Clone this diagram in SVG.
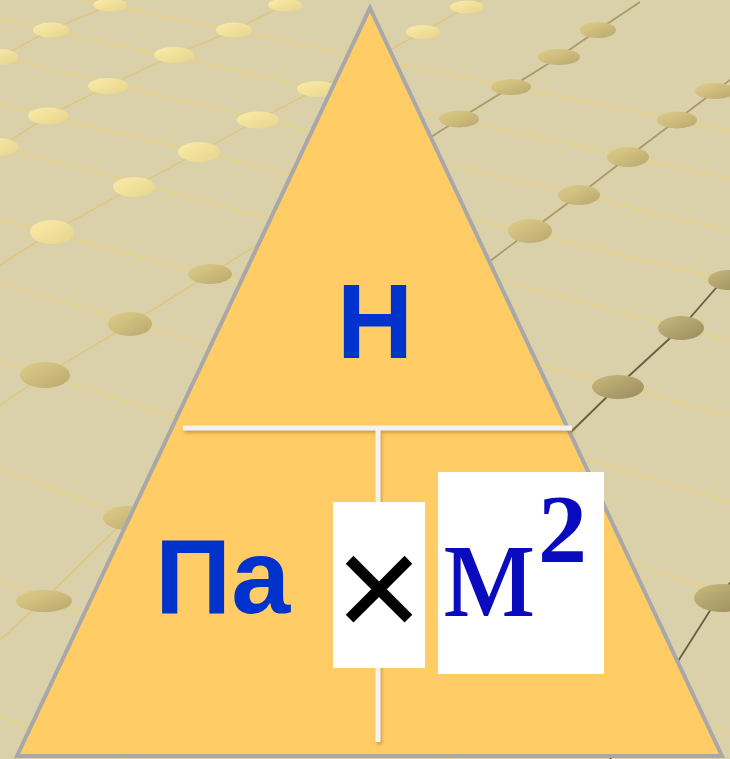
<svg xmlns="http://www.w3.org/2000/svg" width="730" height="759" viewBox="0 0 730 759">
<defs>
<linearGradient id="gl" x1="0" y1="0" x2="1" y2="1"><stop offset="0" stop-color="#FBECA8"/><stop offset="1" stop-color="#E6D48C"/></linearGradient>
<linearGradient id="gm" x1="0" y1="0" x2="1" y2="1"><stop offset="0" stop-color="#DFCE88"/><stop offset="1" stop-color="#B9A86E"/></linearGradient>
<linearGradient id="gd" x1="0" y1="0" x2="1" y2="1"><stop offset="0" stop-color="#C9B97C"/><stop offset="1" stop-color="#9A8B5E"/></linearGradient>
<filter id="sh" filterUnits="userSpaceOnUse" x="0" y="0" width="730" height="759"><feDropShadow dx="1.5" dy="2.5" stdDeviation="1.5" flood-color="#B07820" flood-opacity="0.55"/></filter>
<style>
.bl{fill:none;stroke:#E6D18A;stroke-width:2}
.al{fill:none;stroke:#DCC884;stroke-width:1.8}
.am{fill:none;stroke:#A99A68;stroke-width:1.8}
.ad{fill:none;stroke:#6A5E42;stroke-width:1.8}
.dl{fill:url(#gl)}
.dm{fill:url(#gm)}
.dd{fill:url(#gd)}
.blue{font-family:"Liberation Sans",Arial,sans-serif;font-weight:bold;fill:#0033CC}
.conn{fill:none;stroke:#F2F2F2;stroke-width:5;filter:url(#sh)}
</style>
</defs>
<g id="background">
<rect x="0" y="0" width="730" height="759" fill="#DAD1AB"/>
<line class="bl" x1="0" y1="-17" x2="730" y2="131"/>
<line class="bl" x1="0" y1="19" x2="730" y2="179"/>
<line class="bl" x1="0" y1="57" x2="730" y2="231"/>
<line class="bl" x1="0" y1="104" x2="730" y2="281"/>
<line class="bl" x1="0" y1="147" x2="730" y2="341"/>
<line class="bl" x1="0" y1="219" x2="730" y2="416"/>
<line class="bl" x1="0" y1="283" x2="730" y2="502"/>
<line class="bl" x1="0" y1="361" x2="730" y2="595"/>
<line class="bl" x1="0" y1="470" x2="730" y2="733"/>
<line class="bl" x1="0" y1="580" x2="730" y2="870"/>
<line class="bl" x1="0" y1="717" x2="730" y2="960"/>
<polyline class="al" points="180,-25 110,5 51,30 0,57 -20,68"/>
<polyline class="al" points="330,-18 285,5 234,30 174,55 108,86 48,116 0,147 -20,160"/>
<polyline class="al" points="500,-10 467,7 423,32 317,89 258,120 199,152 134,187 52,232 0,265"/>
<polyline class="am" points="640,2 598,30 559,57 511,87 459,119 380,170"/>
<polyline class="al" points="290,225 210,274 130,324 45,375 0,405"/>
<polyline class="am" points="760,58 715,91 677,120 628,157 579,195 530,231 470,276"/>
<polyline class="al" points="200,450 127,518 44,600 0,640"/>
<polyline class="ad" points="760,240 723,280 681,328 618,386 573,430 540,465"/>
<polyline class="ad" points="760,545 718,598 680,658 640,720 610,759"/>
<ellipse class="dl" cx="110" cy="5" rx="17" ry="6.5"/>
<ellipse class="dl" cx="285" cy="5" rx="17" ry="6.5"/>
<ellipse class="dl" cx="467" cy="7" rx="17" ry="6.5"/>
<ellipse class="dl" cx="51" cy="30" rx="18" ry="7.5"/>
<ellipse class="dl" cx="234" cy="30" rx="18" ry="7.5"/>
<ellipse class="dl" cx="423" cy="32" rx="17" ry="7"/>
<ellipse class="dl" cx="174" cy="55" rx="20" ry="8"/>
<ellipse class="dl" cx="0" cy="57" rx="18" ry="8"/>
<ellipse class="dl" cx="108" cy="86" rx="20" ry="8"/>
<ellipse class="dl" cx="317" cy="89" rx="20" ry="8"/>
<ellipse class="dl" cx="48" cy="116" rx="20" ry="8.5"/>
<ellipse class="dl" cx="258" cy="120" rx="21" ry="8.5"/>
<ellipse class="dl" cx="0" cy="147" rx="18" ry="9"/>
<ellipse class="dl" cx="199" cy="152" rx="21" ry="10"/>
<ellipse class="dl" cx="134" cy="187" rx="21" ry="10"/>
<ellipse class="dl" cx="52" cy="232" rx="22" ry="12"/>
<ellipse class="dm" cx="210" cy="274" rx="22" ry="10"/>
<ellipse class="dm" cx="130" cy="324" rx="22" ry="12"/>
<ellipse class="dm" cx="45" cy="375" rx="25" ry="13"/>
<ellipse class="dm" cx="127" cy="518" rx="24" ry="12"/>
<ellipse class="dm" cx="44" cy="601" rx="28" ry="11"/>
<ellipse class="dm" cx="598" cy="30" rx="18" ry="8"/>
<ellipse class="dm" cx="559" cy="57" rx="21" ry="8"/>
<ellipse class="dm" cx="511" cy="87" rx="20" ry="8"/>
<ellipse class="dm" cx="459" cy="119" rx="20" ry="8.5"/>
<ellipse class="dm" cx="715" cy="91" rx="20" ry="8"/>
<ellipse class="dm" cx="677" cy="120" rx="20" ry="8.5"/>
<ellipse class="dm" cx="628" cy="157" rx="21" ry="10"/>
<ellipse class="dm" cx="579" cy="195" rx="21" ry="10"/>
<ellipse class="dm" cx="530" cy="231" rx="22" ry="12"/>
<ellipse class="dd" cx="728" cy="280" rx="20" ry="10"/>
<ellipse class="dd" cx="681" cy="328" rx="23" ry="12"/>
<ellipse class="dd" cx="618" cy="387" rx="26" ry="12"/>
<ellipse class="dd" cx="722" cy="598" rx="28" ry="14"/>
</g>
<g id="triangle">
<polygon points="370,8 722,756 17,756" fill="#FFCC66" stroke="#A8A8A8" stroke-width="4" stroke-linejoin="miter"/>
</g>
<g id="connectors">
<line class="conn" x1="183" y1="428" x2="572" y2="428"/>
<line class="conn" x1="378" y1="430" x2="378" y2="742"/>
</g>
<g id="node-N">
<text class="blue" x="375" y="358" font-size="106" text-anchor="middle">Н</text>
</g>
<g id="node-Pa">
<text class="blue" x="155" y="613" font-size="106">Па</text>
</g>
<g id="node-times">
<rect x="333" y="502" width="92" height="166" fill="#FFFFFF"/>
<text x="379" y="625" font-family="'DejaVu Sans',sans-serif" font-size="114" text-anchor="middle" fill="#000000" stroke="#000000" stroke-width="1.6">×</text>
</g>
<g id="node-m2">
<rect x="438" y="472" width="166" height="202" fill="#FFFFFF"/>
<text x="442" y="616" font-family="'Liberation Serif',serif" font-size="148" fill="#0A0ABE">м</text>
<text x="538" y="562" font-family="'Liberation Serif',serif" font-weight="bold" font-size="98" fill="#0A0ABE">2</text>
</g>
</svg>
